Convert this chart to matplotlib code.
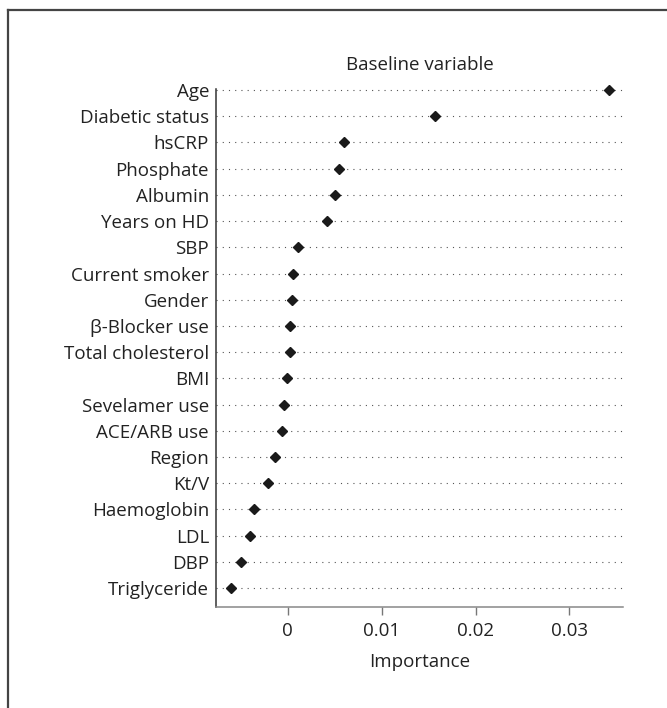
import numpy as np
import matplotlib
matplotlib.use('agg')
import matplotlib.pyplot as plt
from matplotlib.lines import Line2D

# variables, top to bottom
variables = ['Age', 'Diabetic status', 'hsCRP', 'Phosphate', 'Albumin',
             'Years on HD', 'SBP', 'Current smoker', 'Gender',
             '\u03b2-Blocker use', 'Total cholesterol', 'BMI', 'Sevelamer use',
             'ACE/ARB use', 'Region', 'Kt/V', 'Haemoglobin', 'LDL', 'DBP',
             'Triglyceride']
importance = [0.0342, 0.0157, 0.0060, 0.0055, 0.0050,
              0.0042, 0.0011, 0.0006, 0.0005,
              0.0002, 0.0002, -0.0001, -0.0004,
              -0.0006, -0.0014, -0.0021, -0.0036, -0.0040, -0.0050,
              -0.0060]
xticks = [0, 0.01, 0.02, 0.03]
xticklabels = ['0', '0.01', '0.02', '0.03']

plt.rcParams['font.family'] = ['Open Sans', 'DejaVu Sans']
fsize = 13.5
txtcol = '#222222'

fig = plt.figure(figsize=(6.67, 7.08), dpi=100)
ax = fig.add_axes([216/667, 101/708, 407/667, 518/708])

n = len(variables)
ypos = np.arange(n)[::-1]
for y in ypos:
    ax.axhline(y, color='#555555', linewidth=0.8, linestyle=(0, (1, 4.6)), zorder=1)
ax.plot(importance, ypos, linestyle='none', marker='D', markersize=4.6,
        color='#1a1a1a', zorder=3, clip_on=False)

ax.set_xlim(-0.00764, 0.0357)
ax.set_ylim(-0.725, n - 1 + 0.04)
ax.set_yticks(ypos)
ax.set_yticklabels(variables, fontsize=fsize, color=txtcol)
ax.tick_params(axis='y', length=0, pad=5)
ax.set_xticks(xticks)
ax.set_xticklabels(xticklabels, fontsize=fsize, color=txtcol)
ax.tick_params(axis='x', length=6, width=1, color='#777777', pad=5)
ax.set_xlabel('Importance', fontsize=fsize, color=txtcol, labelpad=9)

ax.spines['top'].set_visible(False)
ax.spines['right'].set_visible(False)
ax.spines['left'].set_color('#333333')
ax.spines['left'].set_linewidth(1.1)
ax.spines['bottom'].set_color('#888888')
ax.spines['bottom'].set_linewidth(1.1)

fig.text((216 + 623) / 2 / 667, 1 - 65/708, 'Baseline variable', ha='center',
         va='center', fontsize=fsize, color=txtcol)

# frame (top and left edges only visible)
fig.add_artist(Line2D([8/667, 1], [1 - 9.5/708, 1 - 9.5/708],
                      transform=fig.transFigure, color='#444444', linewidth=1.6))
fig.add_artist(Line2D([8/667, 8/667], [0, 1 - 9.5/708],
                      transform=fig.transFigure, color='#444444', linewidth=1.6))

plt.savefig('out.png', dpi=100)
